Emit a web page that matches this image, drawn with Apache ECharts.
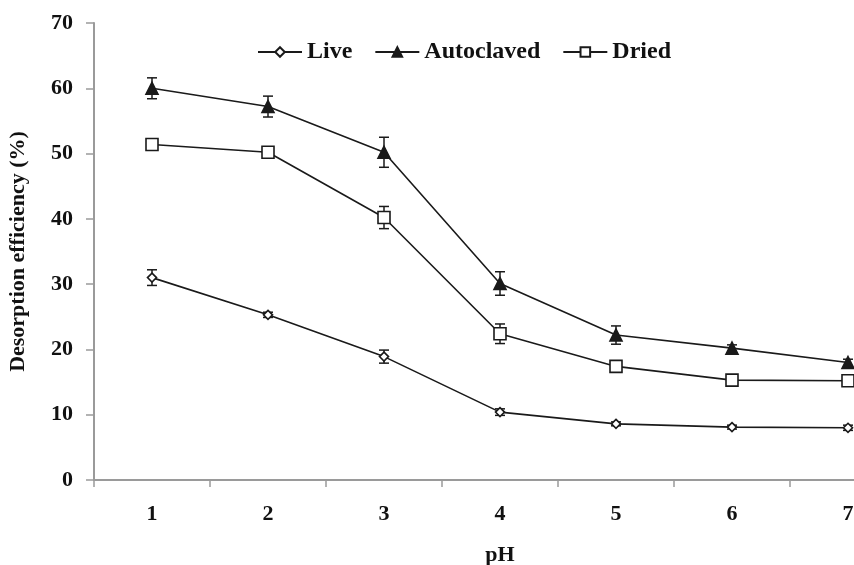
<!DOCTYPE html>
<html>
<head>
<meta charset="utf-8">
<script src="https://cdn.jsdelivr.net/npm/echarts@6/dist/echarts.min.js"></script>
<style>
  html, body { margin: 0; padding: 0; background: #fff; }
  #chart { width: 854px; height: 565px; }
</style>
</head>
<body>
<div id="chart"></div>
<script>
// pH values on the x axis
const phLabels = ["1", "2", "3", "4", "5", "6", "7"];

// desorption efficiency (%)
const liveData = [31.0, 25.3, 18.9, 10.4, 8.6, 8.1, 8.0];
const autoclavedData = [60.0, 57.2, 50.2, 30.1, 22.2, 20.2, 18.0];
const driedData = [51.4, 50.2, 40.2, 22.4, 17.4, 15.3, 15.2];

// standard deviations (error bar half-length)
const liveErr = [1.2, 0.4, 1.0, 0.5, 0.3, 0.3, 0.4];
const autoclavedErr = [1.6, 1.6, 2.3, 1.8, 1.4, 0.5, 0.5];
const driedErr = [0.5, 0.8, 1.7, 1.5, 0.4, 0.8, 0.5];

const yTicks = { min: 0, max: 70, interval: 10 };

const font = "'Liberation Serif', 'Times New Roman', serif";
const lineColor = "#1a1a1a";
const axisColor = "#9a9a9a";

function errData(vals, errs) {
  return vals.map((v, i) => [i, v - errs[i], v + errs[i]]);
}

function errSeries(name, vals, errs) {
  return {
    name: name,
    type: "custom",
    z: 1,
    silent: true,
    data: errData(vals, errs),
    renderItem: function (params, api) {
      const x = api.value(0);
      const lo = api.coord([x, api.value(1)]);
      const hi = api.coord([x, api.value(2)]);
      const w = 5;
      const style = { stroke: lineColor, lineWidth: 1.5 };
      return {
        type: "group",
        children: [
          { type: "line", shape: { x1: lo[0], y1: lo[1], x2: hi[0], y2: hi[1] }, style: style },
          { type: "line", shape: { x1: lo[0] - w, y1: lo[1], x2: lo[0] + w, y2: lo[1] }, style: style },
          { type: "line", shape: { x1: hi[0] - w, y1: hi[1], x2: hi[0] + w, y2: hi[1] }, style: style },
        ],
      };
    },
  };
}

function lineSeries(name, vals, symbol, size, fill) {
  return {
    name: name,
    type: "line",
    z: 3,
    data: vals,
    symbol: symbol,
    symbolSize: size,
    showAllSymbol: true,
    lineStyle: { color: lineColor, width: 1.6 },
    itemStyle: { color: fill, borderColor: lineColor, borderWidth: 1.6 },
  };
}

const chart = echarts.init(document.getElementById("chart"));
chart.setOption({
  backgroundColor: "#fff",
  animation: false,
  grid: { left: 94, right: -52, top: 23, bottom: 85, outerBoundsMode: "none" },
  legend: {
    top: 35,
    left: 252,
    itemWidth: 44,
    itemHeight: 12,
    itemGap: 22,
    data: ["Live", "Autoclaved", "Dried"],
    textStyle: { fontFamily: font, fontWeight: "bold", fontSize: 24, color: "#111" },
  },
  xAxis: {
    type: "category",
    data: phLabels,
    boundaryGap: true,
    name: "pH",
    nameLocation: "middle",
    nameGap: 64,
    nameTextStyle: { fontFamily: font, fontWeight: "bold", fontSize: 22, color: "#111" },
    axisLine: { lineStyle: { color: axisColor, width: 2 } },
    axisTick: { show: true, length: 7, lineStyle: { color: axisColor, width: 1.5 } },
    axisLabel: { margin: 23, fontFamily: font, fontWeight: "bold", fontSize: 22, color: "#111" },
    splitLine: { show: false },
  },
  yAxis: {
    type: "value",
    min: yTicks.min,
    max: yTicks.max,
    interval: yTicks.interval,
    name: "Desorption efficiency (%)",
    nameLocation: "middle",
    nameGap: 65,
    nameTextStyle: { fontFamily: font, fontWeight: "bold", fontSize: 22, color: "#111" },
    axisLine: { show: true, lineStyle: { color: axisColor, width: 2 } },
    axisTick: { show: true, length: 8, lineStyle: { color: axisColor, width: 1.5 } },
    axisLabel: { margin: 21, fontFamily: font, fontWeight: "bold", fontSize: 22, color: "#111" },
    splitLine: { show: false },
  },
  series: [
    errSeries("LiveErr", liveData, liveErr),
    errSeries("AutoclavedErr", autoclavedData, autoclavedErr),
    errSeries("DriedErr", driedData, driedErr),
    lineSeries("Live", liveData, "diamond", 9, "#fff"),
    lineSeries("Autoclaved", autoclavedData, "triangle", 12, lineColor),
    lineSeries("Dried", driedData, "rect", 12, "#fff"),
  ],
});
</script>
</body>
</html>
